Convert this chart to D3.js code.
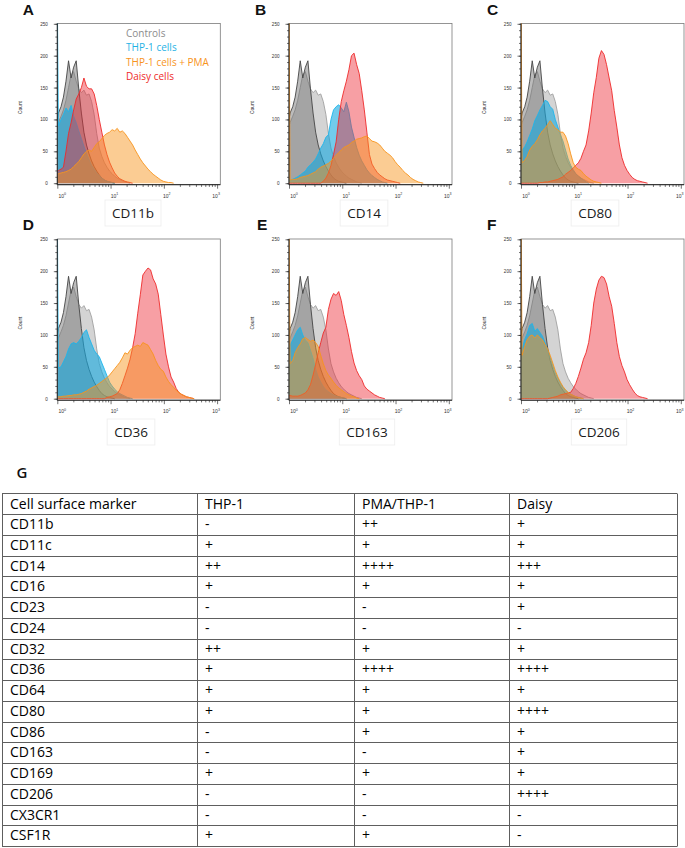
<!DOCTYPE html>
<html><head><meta charset="utf-8">
<script src="https://cdn.jsdelivr.net/npm/d3@7"></script>
<style>body{margin:0;background:#fff} svg{display:block}</style>
</head><body>
<svg id="fig" width="685" height="848"></svg>
<script>
// ---------- DATA ----------
// instrument channel positions (log10 of fluorescence)
const logBins = [0,0.02,0.07,0.115,0.163,0.211,0.259,0.307,0.355,0.403,0.452,0.500,0.548,0.596,0.644,0.692,0.740,0.788,0.836,0.885,0.933,0.981,1.029,1.077,1.125,1.173,1.221,1.270,1.318,1.366,1.414,1.462,1.510,1.558,1.606,1.655,1.703,1.751,1.799,1.847,1.895,1.943,1.991,2.039,2.088,2.136,2.184,2.232,2.280,2.328,2.376,2.424,2.473,2.521,2.569,2.617];

const panelLetters = ["A","B","C","D","E","F"];
const markers = ["CD11b","CD14","CD80","CD36","CD163","CD206"];
const legendLabels = ["Controls","THP-1 cells","THP-1 cells + PMA","Daisy cells"];
const yTicks = [0,50,100,150,200,250];
const xDecades = [1,10,100,1000];

const controlDark  = [100,110,120,135,160,192,165,182,192,148,110,80,60,46,35,26,19,13,8,5,3,2,1,0];
const controlLight = [90,95,105,115,130,150,170,175,160,148,142,146,138,140,128,108,78,55,42,32,25,19,15,11,8,6,4,2,1,0];

const thp1_CD11b  = [300,90,100,108,118,112,122,105,95,82,70,58,47,37,28,22,16,12,8,5,3,2,1,0];
const pma_CD11b   = [14,15,16,17,18,20,22,26,30,34,40,46,50,52,50,56,62,65,70,75,78,80,84,82,86,80,82,78,72,66,60,52,45,38,32,27,22,18,14,11,8,5,3,2,1,1,0];
const daisy_CD11b = [18,20,22,25,50,78,95,115,132,140,150,165,152,148,148,140,122,100,80,60,45,33,24,16,11,7,5,3,2,1,0];

const thp1_CD14  = [6,5,6,8,10,13,16,19,25,29,33,38,46,55,62,72,76,100,115,120,123,118,112,127,112,88,72,56,44,35,28,21,16,12,9,6,4,2,1,0];
const pma_CD14   = [300,5,6,6,7,9,10,11,12,14,16,18,22,25,27,29,31,35,39,44,48,52,56,58,60,64,66,69,70,71,73,74,70,66,65,63,60,55,50,47,44,40,34,29,25,20,16,13,9,6,4,2,1,0];
const daisy_CD14 = [0,0,0,0,0,0,0,0,0,0,0,0,0,0,3,8,16,28,45,65,100,128,145,160,178,200,204,186,172,145,115,80,45,30,23,17,13,10,7,5,4,3,2,1,0];

const thp1_CD80  = [50,52,57,65,75,85,98,106,115,122,130,128,120,116,100,88,76,66,52,38,28,21,15,11,8,5,2,0];
const pma_CD80   = [300,32,36,42,52,58,62,68,76,82,86,92,98,92,86,84,80,80,74,62,46,32,25,22,20,15,11,8,5,3,2,1,0];
const daisy_CD80 = [0,0,0,0,0,0,0,0,1,1,2,2,3,4,5,6,8,10,14,17,20,24,28,32,39,50,60,82,110,142,166,196,208,202,186,165,145,114,88,60,40,28,20,14,9,6,4,3,2,1,0];

const thp1_CD36  = [300,48,50,58,66,78,86,88,86,90,96,104,108,96,86,76,70,66,56,46,36,26,20,15,11,8,6,4,2,1,0];
const pma_CD36   = [3,3,3,4,4,5,5,6,6,7,8,10,12,15,17,19,21,24,27,30,33,37,42,47,52,57,64,72,70,76,80,82,84,82,88,86,84,77,70,60,52,46,43,34,27,22,18,13,10,7,5,3,2,1,0];
const daisy_CD36 = [0,0,0,0,0,0,0,0,0,0,0,0,0,0,0,0,0,0,0,0,2,3,4,6,8,14,24,36,48,62,80,102,134,163,194,200,205,202,188,180,164,132,100,70,50,34,26,16,10,7,5,3,2,1,0];

const thp1_CD163  = [80,84,92,100,108,112,100,92,88,76,63,46,34,26,19,14,11,8,6,4,3,2,1,0];
const pma_CD163   = [300,55,60,72,80,86,94,96,93,90,92,88,82,68,55,44,37,32,26,21,17,14,11,8,6,4,3,1,0];
const daisy_CD163 = [5,5,4,4,4,5,7,9,14,22,37,54,72,88,103,112,140,156,165,162,168,154,132,115,96,74,56,44,36,30,20,15,12,9,6,4,2,1,0];

const thp1_CD206  = [75,78,93,102,115,118,106,110,104,98,88,76,64,52,40,32,24,18,13,9,7,5,3,2,1,0];
const pma_CD206   = [300,68,82,92,98,100,95,100,96,92,85,78,68,56,44,34,26,19,14,10,7,5,3,2,1,0];
const daisy_CD206 = [0,0,0,0,0,0,0,0,0,0,0,0,1,2,3,4,6,7,8,9,10,16,24,35,48,62,72,88,115,150,172,186,192,190,180,160,145,118,88,66,52,42,30,22,15,9,5,3,2,1,0];

const thp1Series  = [thp1_CD11b, thp1_CD14, thp1_CD80, thp1_CD36, thp1_CD163, thp1_CD206];
const pmaSeries   = [pma_CD11b, pma_CD14, pma_CD80, pma_CD36, pma_CD163, pma_CD206];
const daisySeries = [daisy_CD11b, daisy_CD14, daisy_CD80, daisy_CD36, daisy_CD163, daisy_CD206];

const tableHeader = ["Cell surface marker","THP-1","PMA/THP-1","Daisy"];
const tableMarkers = ["CD11b","CD11c","CD14","CD16","CD23","CD24","CD32","CD36","CD64","CD80","CD86","CD163","CD169","CD206","CX3CR1","CSF1R"];
const thp1Expr  = ["-","+","++","+","-","-","++","+","+","+","-","-","+","-","-","+"];
const pmaExpr   = ["++","+","++++","+","-","-","+","++++","+","+","+","-","+","-","-","+"];
const daisyExpr = ["+","+","+++","+","+","-","+","++++","+","++++","+","+","+","++++","-","-"];

// ---------- STYLE / LAYOUT ----------
const styles = {
  light: {fill:"#b0b0b0", fo:0.55, stroke:"#a0a0a0"},
  dark:  {fill:"#6a6a6a", fo:0.45, stroke:"#454545"},
  thp1:  {fill:"#14a9df", fo:0.6,  stroke:"#1cb5ec"},
  daisy: {fill:"#ee2a35", fo:0.45, stroke:"#ee2a2a"},
  pma:   {fill:"#f7941d", fo:0.48, stroke:"#f7941d"}
};
const legendColors = ["#8c8c8c","#1fb2e5","#f7941d","#ee2a2a"];

const svg = d3.select("#fig");
const W = 163;
const colX = [57.3, 289, 521];
const rowTop = [23.8, 239.3];
const plotH = 159.4;
const logMax = 3.06;
const letterPos = [[22.7,15],[255,15],[487,15],[22.7,229.5],[257,229.5],[487,229.5]];
const labelCx = [133, 364, 595, 131, 367, 599];
const labelBase = [218, 437];

panelLetters.forEach((letter, k) => {
  const col = k % 3, row = Math.floor(k / 3);
  const x0 = colX[col], yT = rowTop[row], yB = yT + plotH;
  const x = d3.scaleLog().domain([1, Math.pow(10, logMax)]).range([x0, x0 + W]);
  const y = d3.scaleLinear().domain([0, 250]).range([yB, yT]);
  const axisY = yB + 1.5;
  const g = svg.append("g");

  const clipId = "clip" + k;
  svg.append("clipPath").attr("id", clipId).append("rect")
    .attr("x", x0).attr("y", yT - 0.3).attr("width", W).attr("height", axisY - yT + 0.3);

  // frame
  g.append("rect").attr("x", x0).attr("y", yT - 0.3).attr("width", W).attr("height", axisY - yT + 0.3)
    .attr("fill", "none").attr("stroke", "#7a7a7a").attr("stroke-width", 0.8);

  const px = (d, i) => x(Math.pow(10, logBins[i]));
  const area = d3.area().x(px).y0(yB).y1(d => y(d));
  const line = d3.line().x(px).y(d => y(d));

  const series = [
    [controlLight, styles.light],
    [controlDark, styles.dark],
    [thp1Series[k], styles.thp1],
    [daisySeries[k], styles.daisy],
    [pmaSeries[k], styles.pma]
  ];
  const sg = g.append("g").attr("clip-path", `url(#${clipId})`);
  series.forEach(([counts, st]) => {
    sg.append("path").datum(counts).attr("d", area)
      .attr("fill", st.fill).attr("fill-opacity", st.fo).attr("stroke", "none");
    sg.append("path").datum(counts).attr("d", line)
      .attr("fill", "none").attr("stroke", st.stroke).attr("stroke-width", 0.9)
      .attr("stroke-linejoin", "round");
  });

  // y axis
  const ya = g.append("g").attr("transform", `translate(${x0},0)`);
  ya.append("g").call(d3.axisLeft(y).tickValues(d3.range(0, 251, 10)).tickSize(2).tickFormat(""))
    .call(s => s.select(".domain").remove());
  ya.append("g").call(d3.axisLeft(y).tickValues(yTicks).tickSize(3.5).tickPadding(6).tickFormat(d3.format("d")))
    .call(s => s.select(".domain").remove());
  ya.selectAll("line").attr("stroke", "#333").attr("stroke-width", 0.7);
  ya.selectAll("text").attr("font-size", 4.6).attr("font-family", "Liberation Sans, Arial, sans-serif").attr("fill", "#333");
  g.append("line").attr("x1", x0).attr("x2", x0).attr("y1", yT - 0.3).attr("y2", axisY)
    .attr("stroke", "#222").attr("stroke-width", 1);

  // x axis
  const minor = [];
  [1, 10, 100].forEach(dec => [2,3,4,5,6,7,8,9].forEach(m => minor.push(dec * m)));
  const xa = g.append("g").attr("transform", `translate(0,${axisY})`);
  xa.append("g").call(d3.axisBottom(x).tickValues(minor).tickSize(2.2).tickFormat(""))
    .call(s => s.select(".domain").remove());
  xa.append("g").call(d3.axisBottom(x).tickValues(xDecades).tickSize(4).tickFormat(""))
    .call(s => s.select(".domain").remove());
  xa.selectAll("line").attr("stroke", "#333").attr("stroke-width", 0.7);
  g.append("line").attr("x1", x0).attr("x2", x0 + W).attr("y1", axisY).attr("y2", axisY)
    .attr("stroke", "#222").attr("stroke-width", 1);
  const dxs = [5, 4, 3, -1];
  xDecades.forEach((d, i) => {
    const t = g.append("text").attr("x", x(d) + dxs[i]).attr("y", axisY + 13)
      .attr("text-anchor", "middle").attr("font-family", "Liberation Sans, Arial, sans-serif")
      .attr("font-size", 5).attr("fill", "#333");
    t.append("tspan").text("10");
    t.append("tspan").attr("dy", -2.4).attr("font-size", 3.6).text(String(Math.round(Math.log10(d))));
  });

  // Count label
  g.append("text").attr("transform", `translate(${x0 - 35},${(yT + yB) / 2 + 4}) rotate(-90)`)
    .attr("text-anchor", "middle").attr("font-family", "Liberation Sans, Arial, sans-serif")
    .attr("font-size", 4.8).attr("fill", "#222").text("Count");

  // panel letter
  svg.append("text").attr("x", letterPos[k][0]).attr("y", letterPos[k][1])
    .attr("font-family", "Liberation Sans, Arial, sans-serif").attr("font-weight", "bold")
    .attr("font-size", 15.5).attr("fill", "#111").text(letter);

  // marker label with faint text box
  const box = svg.append("rect").attr("fill", "none").attr("stroke", "#ededed").attr("stroke-width", 0.8);
  const lab = svg.append("text").attr("x", labelCx[k]).attr("y", labelBase[row])
    .attr("text-anchor", "middle").attr("font-family", "Open Sans, sans-serif")
    .attr("font-size", 13.5).attr("fill", "#1a1a1a").text(markers[k]);
  const tw = lab.node().getComputedTextLength();
  box.attr("x", labelCx[k] - tw / 2 - 7).attr("y", labelBase[row] - 18)
    .attr("width", tw + 14).attr("height", 26);
});

// legend (panel A)
legendLabels.forEach((t, i) => {
  svg.append("text").attr("x", 126).attr("y", 36.5 + i * 14.5)
    .attr("font-family", "Open Sans, sans-serif").attr("font-size", 10)
    .attr("fill", legendColors[i]).text(t);
});

// ---------- TABLE ----------
svg.append("text").attr("x", 16.5).attr("y", 478)
  .attr("font-family", "Open Sans, sans-serif").attr("font-weight", 600)
  .attr("font-size", 15).attr("fill", "#111").text("G");

const colEdges = [2, 197, 354, 509, 677];
const nRows = tableMarkers.length + 1;
const ty = d3.scaleLinear().domain([0, nRows]).range([493.3, 846]);
const tg = svg.append("g");
d3.range(nRows + 1).forEach(i => {
  tg.append("line").attr("x1", colEdges[0]).attr("x2", colEdges[4])
    .attr("y1", Math.round(ty(i)) + 0.5).attr("y2", Math.round(ty(i)) + 0.5)
    .attr("stroke", "#5e5e5e").attr("stroke-width", 1);
});
colEdges.forEach(cx => {
  tg.append("line").attr("x1", Math.round(cx) + 0.5).attr("x2", Math.round(cx) + 0.5)
    .attr("y1", Math.round(ty(0)) + 0.5).attr("y2", Math.round(ty(nRows)) + 0.5)
    .attr("stroke", "#5e5e5e").attr("stroke-width", 1);
});
const tableRows = [tableHeader].concat(tableMarkers.map((m, i) => [m, thp1Expr[i], pmaExpr[i], daisyExpr[i]]));
tableRows.forEach((r, i) => {
  r.forEach((cell, j) => {
    tg.append("text").attr("x", colEdges[j] + 8).attr("y", ty(i) + 15.2)
      .attr("font-family", "Open Sans, sans-serif").attr("font-size", 14)
      .attr("fill", "#000").text(cell);
  });
});
</script>
</body></html>
